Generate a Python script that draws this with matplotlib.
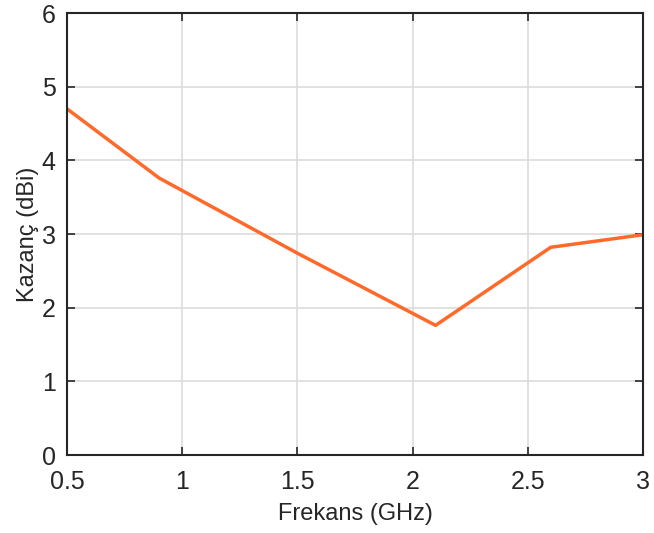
import matplotlib
matplotlib.use("Agg")
import matplotlib.pyplot as plt

# gain vs frequency
freq = [0.5, 0.9, 1.5, 1.8, 2.1, 2.6, 3.0]
gain = [4.70, 3.76, 2.74, 2.25, 1.76, 2.82, 2.99]

plt.rcParams['font.family'] = ['Liberation Sans', 'DejaVu Sans']

fig = plt.figure(figsize=(6.54, 5.33), dpi=100)
ax = fig.add_axes([0.1024, 0.1463, 0.8807, 0.8293])

ax.plot(freq, gain, color='#ff6a2a', linewidth=2.5)

ax.set_xlim(0.5, 3)
ax.set_ylim(0, 6)
ax.set_xticks([0.5, 1, 1.5, 2, 2.5, 3])
ax.set_xticklabels(['0.5', '1', '1.5', '2', '2.5', '3'])
ax.set_yticks(range(0, 7))

ax.grid(True, color='#dcdcdc', linewidth=1.2)
ax.set_axisbelow(True)
ax.tick_params(direction='in', length=6, width=1.2, labelsize=18, colors='#262626',
               top=True, right=True)
ax.tick_params(axis='x', pad=11)
ax.tick_params(axis='y', pad=8)
for s in ax.spines.values():
    s.set_linewidth(1.5)
    s.set_color('#262626')

ax.set_xlabel('Frekans (GHz)', fontsize=17, color='#262626', labelpad=6)
ax.set_ylabel('Kazanç (dBi)', fontsize=17, color='#262626', labelpad=2)

fig.savefig('out.png', dpi=100)
